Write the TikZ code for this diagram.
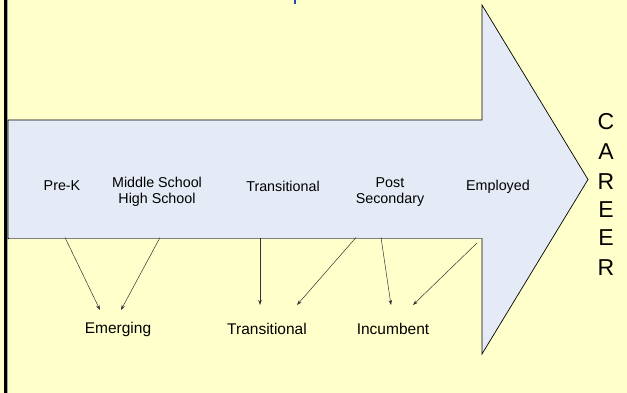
\documentclass[tikz,border=0pt]{standalone}
\usepackage{fontspec}
\setmainfont{Liberation Sans}
\usetikzlibrary{arrows.meta}
\definecolor{bgyellow}{HTML}{FFFFCC}
\definecolor{shaftblue}{HTML}{E4EBF6}
\definecolor{titleblue}{HTML}{1F4FA8}
\definecolor{edgegray}{HTML}{333333}
\tikzset{
  stage/.style={font=\fontsize{14.3}{16.5}\selectfont, align=center, text=black, inner sep=0pt},
  level/.style={font=\fontsize{15.5}{18}\selectfont, text=black, inner sep=0pt},
  career/.style={font=\fontsize{23}{28}\selectfont, text=black, inner sep=0pt},
  link/.style={draw=edgegray, line width=0.5pt, -{Stealth[length=5pt,width=3.5pt]}}
}
\begin{document}
\begin{tikzpicture}[x=1pt,y=-1pt]
  % page background and left border
  \fill[bgyellow] (0,0) rectangle (627,393);
  \useasboundingbox (0,0) rectangle (627,393);
  \fill[black] (4,0) rectangle (6.8,393);
  \draw[gray!70, line width=0.6pt] (7.2,0) -- (7.2,393);

  % descender of the title text above
  \fill[titleblue] (294,0) rectangle (296.3,4.2);

  % the big arrow
  \draw[fill=shaftblue, draw=black, line width=0.7pt, line join=miter]
    (8,120) -- (482,120) -- (482,5) -- (588,179.5) -- (482,354) -- (482,238.5) -- (8,238.5) -- cycle;
  \draw[gray, line width=0.7pt] (8.5,238.5) -- (481.5,238.5);

  % stages along the arrow
  \node[stage] (prek) at (62,186) {Pre-K};
  \node[stage] (school) at (157,192) {Middle School\\High School};
  \node[stage] (trans) at (283,186) {Transitional};
  \node[stage] (post) at (390,192) {Post\\Secondary};
  \node[stage] (empl) at (498,187) {Employed};

  % vertical word at the arrow tip
  \node[career] (c1) at (606,122) {C};
  \node[career] (c2) at (606,152) {A};
  \node[career] (c3) at (606,182) {R};
  \node[career] (c4) at (606,210) {E};
  \node[career] (c5) at (606,238) {E};
  \node[career] (c6) at (606,268) {R};

  % worker levels below
  \node[level] (emerg) at (118,329) {Emerging};
  \node[level] (ltrans) at (267,329) {Transitional};
  \node[level] (incum) at (393,329) {Incumbent};

  % connector ends
  \coordinate (s1) at (65,237.5);
  \coordinate (s2) at (160,237.5);
  \coordinate (s3) at (260,237.5);
  \coordinate (s4) at (356,237.5);
  \coordinate (s5) at (381,237.5);
  \coordinate (s6) at (477,243);
  \coordinate (e1) at (100,310);
  \coordinate (e2) at (121,310);
  \coordinate (e3) at (260,305);
  \coordinate (e4) at (297,305);
  \coordinate (e5) at (391,305);
  \coordinate (e6) at (413,305);

  \draw[link] (s1) -- (e1);
  \draw[link] (s2) -- (e2);
  \draw[link] (s3) -- (e3);
  \draw[link] (s4) -- (e4);
  \draw[link] (s5) -- (e5);
  \draw[link] (s6) -- (e6);
\end{tikzpicture}
\end{document}
